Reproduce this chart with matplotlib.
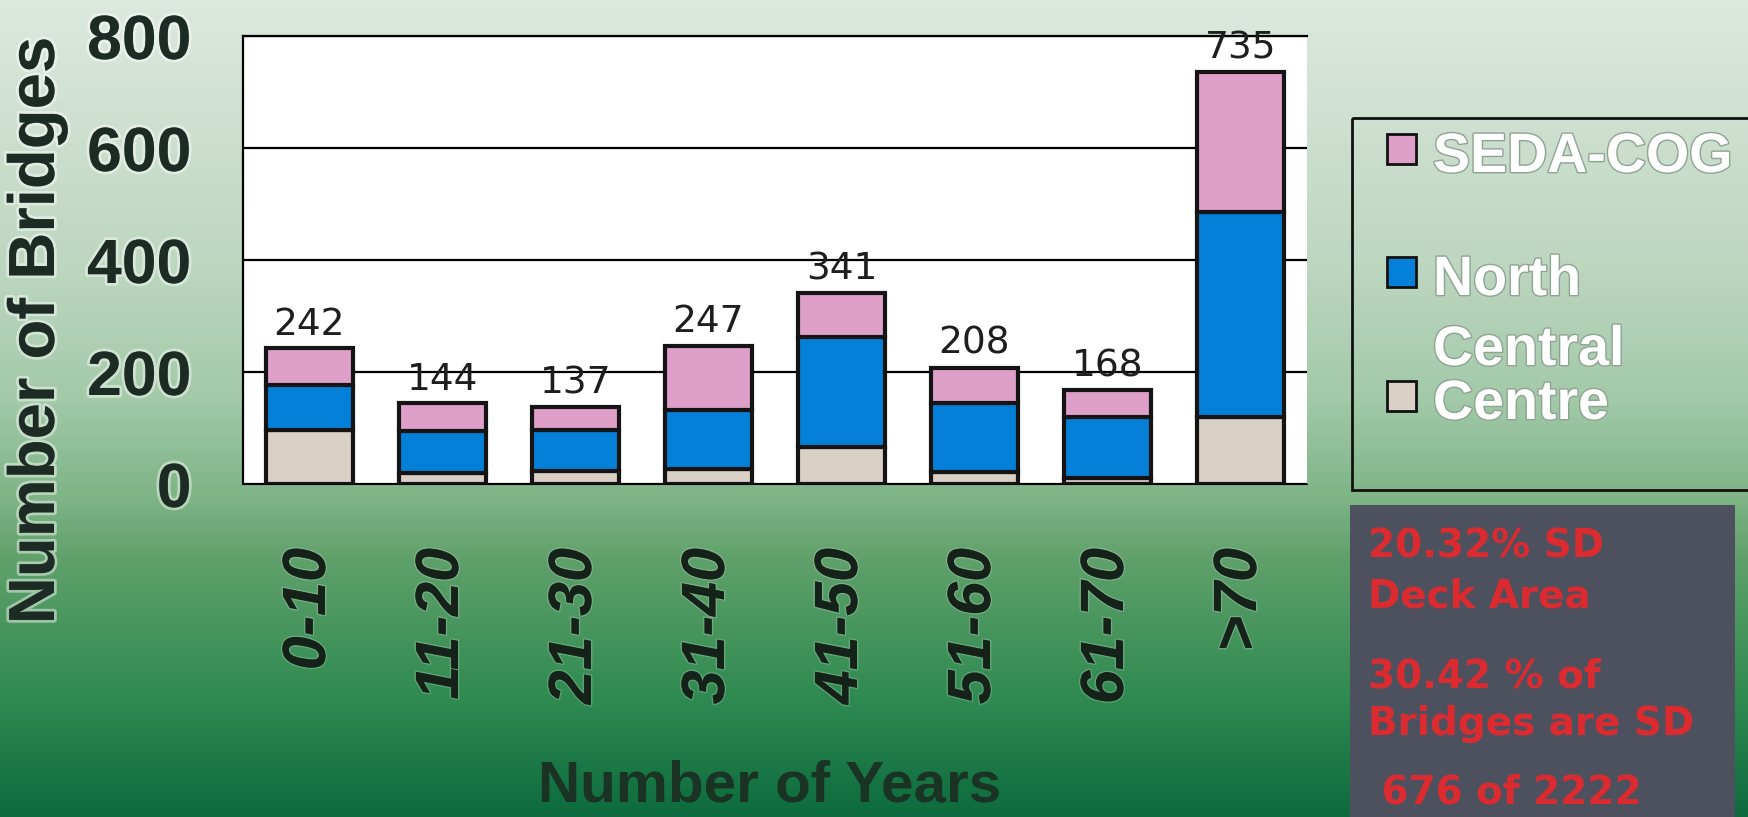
import matplotlib
matplotlib.use('Agg')
import matplotlib.pyplot as plt
import matplotlib.patheffects as pe
from matplotlib.patches import Rectangle
import numpy as np

# data
categories = ['0-10', '11-20', '21-30', '31-40', '41-50', '51-60', '61-70', '>70']
centre = [96, 19, 23, 26, 66, 22, 11, 120]
north_central = [80, 75, 73, 107, 196, 123, 108, 366]
seda_cog = [66, 50, 41, 114, 79, 63, 49, 249]
totals = [242, 144, 137, 247, 341, 208, 168, 735]
yticks = [0, 200, 400, 600, 800]

series_names = ['SEDA-COG', 'North\nCentral', 'Centre']
series_colors = ['#de9fc8', '#0580d8', '#d9d0c6']

notes = ['20.32% SD', 'Deck Area', '30.42 % of', 'Bridges are SD', ' 676 of 2222']

W, H = 1749, 817
fig = plt.figure(figsize=(W / 100, H / 100), dpi=100)

# green slide background
bg = fig.add_axes([0, 0, 1, 1], zorder=0)
stops_y = [0, 260, 400, 500, 560, 700, 817]
stops_c = ['#dde8df', '#bed7c1', '#a2c9a8', '#7db385', '#5fa06a', '#2e8a50', '#0c6a3e']
rgb = np.array([matplotlib.colors.to_rgb(c) for c in stops_c])
rows = np.arange(H)
grad = np.stack([np.interp(rows, stops_y, rgb[:, k]) for k in range(3)], axis=1)
bg.imshow(grad[:, None, :], aspect='auto', extent=[0, W, H, 0])
bg.set_xlim(0, W)
bg.set_ylim(H, 0)
bg.axis('off')

# main chart
ax = fig.add_axes([243 / W, 1 - 484 / H, (1307 - 243) / W, (484 - 36) / H], zorder=1)
ax.set_facecolor('white')
x = np.arange(len(categories))
bottoms = np.zeros(len(categories))
top_bars = None
for vals, col in zip([centre, north_central, seda_cog], series_colors[::-1]):
    top_bars = ax.bar(x, vals, 0.65, bottom=bottoms, color=col,
                      edgecolor='#141414', linewidth=3, zorder=3)
    bottoms += np.array(vals)

ax.bar_label(top_bars, labels=[str(t) for t in totals], padding=4, fontsize=27,
             family=['Liberation Sans Narrow', 'DejaVu Sans'], color='#1e1e1e', zorder=5)

ax.set_xlim(-0.5, len(categories) - 0.5)
ax.set_ylim(0, 800)
ax.set_yticks(yticks)
ax.yaxis.grid(True, color='black', lw=1.6)
ax.set_axisbelow(True)
ax.spines['right'].set_visible(False)
ax.spines['left'].set_linewidth(1.6)
ax.spines['top'].set_linewidth(1.6)
ax.spines['bottom'].set_linewidth(0.8)

halo = [pe.withStroke(linewidth=4, foreground=(1, 1, 1, 0.45))]
soft = [pe.withStroke(linewidth=2, foreground=(1, 1, 1, 0.2))]
ax.tick_params(axis='both', length=0)
ax.tick_params(axis='y', pad=37)
ax.tick_params(axis='x', pad=46)
ax.set_yticklabels([str(v) for v in yticks], fontsize=45, fontweight='bold',
                   family='Liberation Sans', color='#1c2b24')
ax.set_xticks(x)
ax.set_xticklabels(categories, rotation=90, fontsize=44, fontweight='bold',
                   fontstyle='italic', family='Liberation Sans', color='#142219')
for t in ax.get_yticklabels():
    t.set_path_effects(halo)
for t in ax.get_xticklabels():
    t.set_path_effects(soft)

ax.set_ylabel('Number of Bridges', fontsize=47, fontweight='bold',
              family='Liberation Sans', color='#1c2b24')
ax.yaxis.set_label_coords((37 - 243) / 1064, (484 - 331) / 448)
ax.yaxis.label.set_va('center')
ax.yaxis.label.set_path_effects(halo)

ax.set_xlabel('Number of Years', fontsize=42, fontweight='bold',
              family='Liberation Sans', color='#1a3324')
ax.xaxis.set_label_coords((770 - 243) / 1064, (484 - 786) / 448)
ax.xaxis.label.set_va('center')

# legend and note box drawn on an overlay in pixel units
ov = fig.add_axes([0, 0, 1, 1], zorder=2)
ov.set_xlim(0, W)
ov.set_ylim(H, 0)
ov.axis('off')

ov.add_patch(Rectangle((1352, 118), 400, 372, fill=False, edgecolor='#111111', lw=2))
marker_y = [149, 272, 396]
for name, col, my in zip(series_names, series_colors, marker_y):
    ov.add_patch(Rectangle((1387, my - 15), 29, 30, facecolor=col,
                           edgecolor='#111111', lw=2))
    for i, line in enumerate(name.split('\n')):
        ov.text(1433, my + 3 + i * 70, line, ha='left', va='center_baseline',
                fontsize=40, fontweight='bold', family='Liberation Sans',
                color='white',
                path_effects=[pe.withStroke(linewidth=2, foreground='#8fa393')])

ov.add_patch(Rectangle((1350, 505), 385, 330, facecolor='#4d515e', edgecolor='none'))
note_y = [543, 593, 673, 720, 788]
for txt, ny in zip(notes, note_y):
    ov.text(1368, ny, txt, ha='left', va='center_baseline', fontsize=28,
            fontweight='bold', family='DejaVu Sans', color='#dc2b30')

fig.savefig('out.png', dpi=100)
